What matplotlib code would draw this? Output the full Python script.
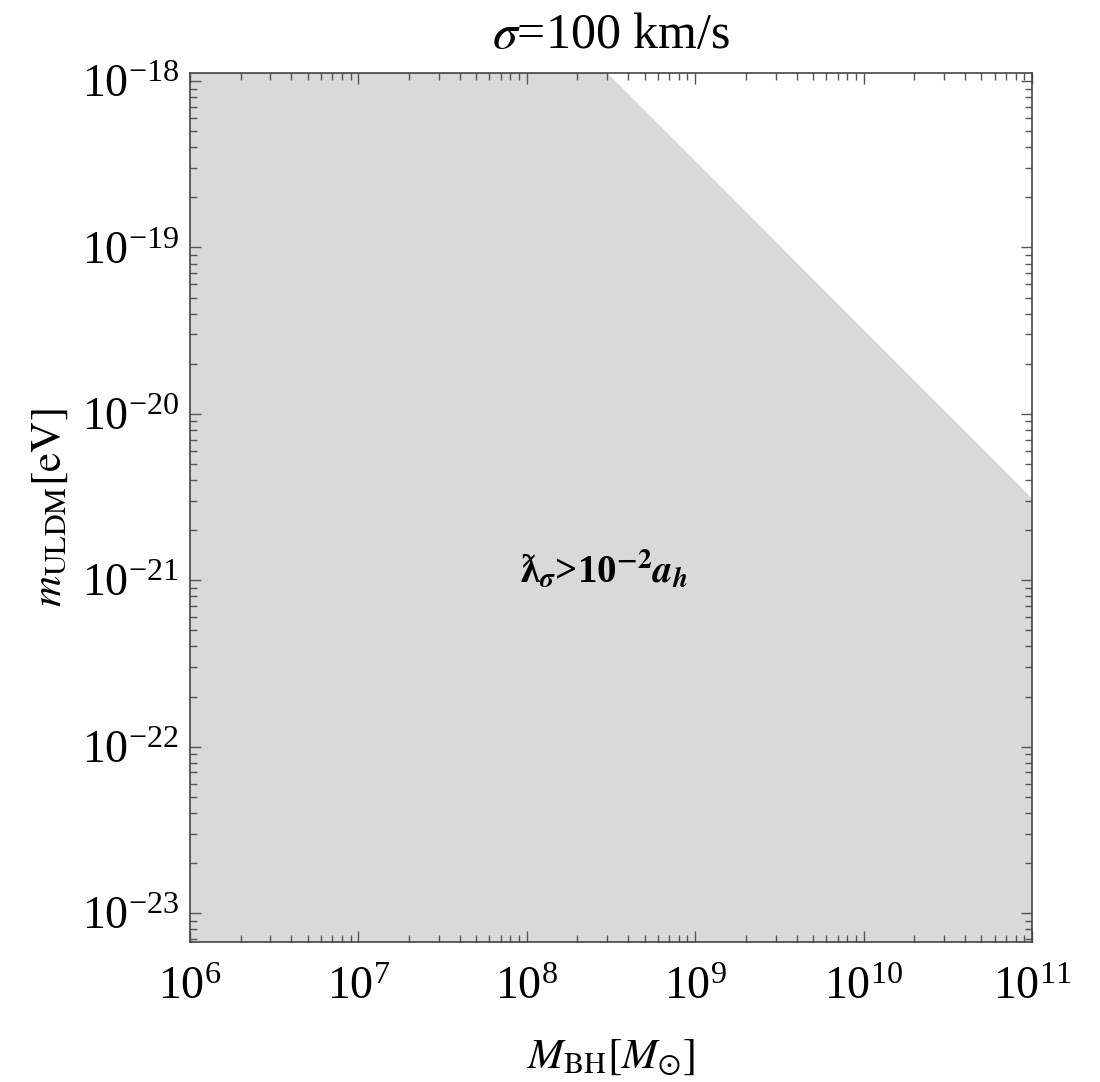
import matplotlib
matplotlib.use("Agg")
import matplotlib.pyplot as plt
from matplotlib.ticker import FixedLocator, LogLocator, NullFormatter

plt.rcParams["font.family"] = ["Liberation Serif", "DejaVu Serif"]
plt.rcParams["mathtext.fontset"] = "stix"

# Excluded-region boundary in (M_BH, m_ULDM); region below is shaded
boundary_M = [1e6, 3.0e8, 1e11]
boundary_m = [1.12e-18, 1.12e-18, 3.1e-21]

x_range = [1e6, 1e11]
y_range = [10 ** -23.174, 10 ** -17.952]
x_ticks = [1e6, 1e7, 1e8, 1e9, 1e10, 1e11]
y_ticks = [1e-23, 1e-22, 1e-21, 1e-20, 1e-19, 1e-18]

region_label = ("ƛ$_{\\mathbfit{\\sigma}}$>10$^{\\mathbf{-2}}$"
                "$\\mathbfit{a}_{\\mathbfit{h}}$")
label_pos = (10 ** 8.46, 10 ** -20.94)

fig = plt.figure(figsize=(11, 10.82), dpi=100)
ax = fig.add_axes([0.1727, 0.1294, 0.7655, 0.8031])

ax.fill_between(boundary_M, 1e-30, boundary_m, color="#d9d9d9", lw=0)

ax.set_xscale("log")
ax.set_yscale("log")
ax.set_xlim(*x_range)
ax.set_ylim(*y_range)

ax.xaxis.set_major_locator(FixedLocator(x_ticks))
ax.yaxis.set_major_locator(FixedLocator(y_ticks))
ax.xaxis.set_minor_locator(LogLocator(base=10, subs=range(2, 10), numticks=50))
ax.yaxis.set_minor_locator(LogLocator(base=10, subs=range(2, 10), numticks=50))
ax.xaxis.set_minor_formatter(NullFormatter())
ax.yaxis.set_minor_formatter(NullFormatter())

ax.tick_params(which="both", direction="in", top=True, right=True,
               color="#555555", width=1.0)
ax.tick_params(which="major", length=8, labelsize=33)
ax.tick_params(axis="x", which="major", pad=18)
ax.tick_params(axis="y", which="major", pad=8)
ax.tick_params(which="minor", length=5)
for sp in ax.spines.values():
    sp.set_color("#444444")
    sp.set_linewidth(1.2)

ax.set_title("$\\sigma$=100 km/s", fontsize=36, pad=18)
ax.set_xlabel("$M_{\\mathrm{BH}}[M_{\\odot}]$", fontsize=31, labelpad=20)
ax.set_ylabel("$m_{\\mathrm{ULDM}}[\\mathrm{eV}]$", fontsize=31, labelpad=8)

ax.text(*label_pos, region_label, fontsize=28, fontweight="bold",
        ha="center", va="center")

fig.savefig("out.png", dpi=100)
